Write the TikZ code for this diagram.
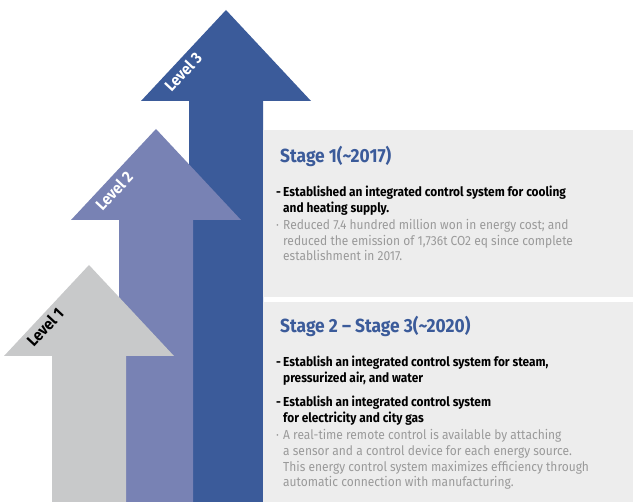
\documentclass[tikz,border=0pt]{standalone}
\usepackage{fontspec}
\setmainfont{Fira Sans}[FakeStretch=0.915]
\usepackage{tikz}
\usetikzlibrary{positioning}

\definecolor{levelthree}{HTML}{3B5B9A}
\definecolor{leveltwo}{HTML}{7882B4}
\definecolor{levelone}{HTML}{C8C9CA}
\definecolor{panelgray}{HTML}{EDEDED}
\definecolor{notegray}{HTML}{9A9A9A}

% up arrow: colour, centre x, tip y (y grows downwards)
\newcommand{\levelarrow}[3]{%
	\fill[#1] (#2,#3) -- (#2+85,#3+91) -- (#2+37,#3+91) -- (#2+37,502)
		-- (#2-37,502) -- (#2-37,#3+91) -- (#2-85,#3+91) -- cycle;}

\begin{document}
\begin{tikzpicture}[x=1pt, y=-1pt,
				levellabel/.style={rotate=47, font=\bfseries\fontsize{16}{16}\selectfont},
				stagetitle/.style={anchor=base west, inner sep=0pt, text=levelthree,
					font=\bfseries\fontsize{19}{19}\selectfont},
				bolditem/.style={anchor=base west, inner sep=0pt, align=left,
					font=\bfseries\fontsize{13}{16}\selectfont},
				noteitem/.style={anchor=base west, inner sep=0pt, align=left, text=notegray,
					font=\fontsize{13.1}{15.8}\selectfont}]
				\useasboundingbox (0,0) rectangle (633,502);
				% the three level arrows, back to front
				\levelarrow{levelthree}{226}{10}
				\levelarrow{leveltwo}{156}{129}
				\levelarrow{levelone}{89}{265}
				\node[levellabel, white] at (183,72) (lvlthree) {Level 3};
				\node[levellabel, white] at (114,191) (lvltwo) {Level 2};
				\node[levellabel, black] at (45,327) (lvlone) {Level 1};
				% stage panels (multi-line texts sit on their last baseline)
				\fill[panelgray] (263,130) rectangle (633,297);
				\fill[panelgray] (263,302) rectangle (633,502);
				\node[stagetitle] at (280,163) (stageone) {Stage 1(\textasciitilde 2017)};
				\node[bolditem] at (276,213) (coolheat) {\makebox[7pt][l]{-}Established an integrated control system for cooling\\
					\hspace*{7pt}and heating supply.};
				\node[noteitem] at (276,261) (noteone) {\makebox[7pt][l]{·}Reduced 7.4 hundred million won in energy cost; and\\
					\hspace*{7pt}reduced the emission of 1,736t CO2 eq since complete\\
					\hspace*{7pt}establishment in 2017.};
				\node[stagetitle] at (280,333) (stagetwo) {Stage 2 – Stage 3(\textasciitilde 2020)};
				\node[bolditem] at (276,383) (steamair) {\makebox[7pt][l]{-}Establish an integrated control system for steam,\\
					\hspace*{7pt}pressurized air, and water};
				\node[bolditem] at (276,423) (elecgas) {\makebox[7pt][l]{-}Establish an integrated control system\\
					\hspace*{7pt}for electricity and city gas};
				\node[noteitem] at (276,487) (notetwo) {\makebox[7pt][l]{·}A real-time remote control is available by attaching\\
					\hspace*{7pt}a sensor and a control device for each energy source.\\
					\hspace*{7pt}This energy control system maximizes efficiency through\\
					\hspace*{7pt}automatic connection with manufacturing.};
			\end{tikzpicture}
\end{document}
